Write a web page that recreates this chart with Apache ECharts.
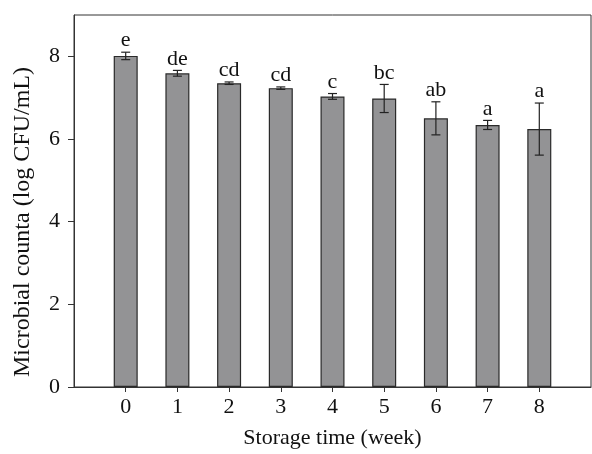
<!DOCTYPE html>
<html>
<head>
<meta charset="utf-8">
<script src="https://cdn.jsdelivr.net/npm/echarts@6/dist/echarts.min.js"></script>
<style>
  html, body { margin: 0; padding: 0; background: #fff; }
  #chart { width: 592px; height: 454px; }
</style>
</head>
<body>
<div id="chart"></div>
<script>
// storage week, mean count, error (half length), significance letters
var weeks = [0, 1, 2, 3, 4, 5, 6, 7, 8];
var means = [8.01, 7.59, 7.35, 7.23, 7.03, 6.98, 6.50, 6.34, 6.24];
var errs = [0.09, 0.07, 0.03, 0.03, 0.07, 0.34, 0.40, 0.11, 0.63];
var letters = ['e', 'de', 'cd', 'cd', 'c', 'bc', 'ab', 'a', 'a'];
var yTicks = [0, 2, 4, 6, 8];

var fontFamily = 'Liberation Serif';
var ink = '#333';

var barData = [];
var errData = [];
for (var i = 0; i < weeks.length; ++i) {
	barData.push([weeks[i], means[i]]);
	errData.push([weeks[i], means[i] - errs[i], means[i] + errs[i]]);
}

function renderErr(params, api) {
	var x = api.value(0);
	var lo = api.coord([x, api.value(1)]);
	var hi = api.coord([x, api.value(2)]);
	var cap = 4.5;
	var lineStyle = { stroke: '#222', lineWidth: 1.2 };
	return {
		type: 'group',
		children: [
			{ type: 'line', shape: { x1: lo[0], y1: lo[1], x2: hi[0], y2: hi[1] }, style: lineStyle },
			{ type: 'line', shape: { x1: lo[0] - cap, y1: lo[1], x2: lo[0] + cap, y2: lo[1] }, style: lineStyle },
			{ type: 'line', shape: { x1: hi[0] - cap, y1: hi[1], x2: hi[0] + cap, y2: hi[1] }, style: lineStyle },
			{ type: 'text', x: hi[0], y: hi[1] - 0.5, style: {
				text: letters[params.dataIndex], fill: '#111', font: '22px "' + fontFamily + '"',
				align: 'center', verticalAlign: 'bottom'
			} }
		]
	};
}

var option = {
	animation: false,
	textStyle: { fontFamily: fontFamily },
	grid: { left: 74, right: 1, top: 15, bottom: 63, show: true, borderColor: ink, borderWidth: 1 },
	// y title placed by hand, it sits a bit below the axis middle in the original
	graphic: [{
		type: 'text',
		x: 23,
		y: 222,
		rotation: Math.PI / 2,
		style: {
			text: 'Microbial counta (log CFU/mL)',
			font: '24px "' + fontFamily + '"',
			fill: '#111',
			align: 'center',
			verticalAlign: 'middle'
		}
	}],
	xAxis: {
		type: 'value',
		min: -1,
		max: 9,
		name: 'Storage time (week)',
		nameLocation: 'middle',
		nameGap: 40,
		nameTextStyle: { fontSize: 22, color: '#111', fontFamily: fontFamily },
		axisLine: { onZero: false, lineStyle: { color: ink, width: 1 } },
		axisTick: { customValues: weeks, length: 5, lineStyle: { color: ink } },
		axisLabel: { customValues: weeks, fontSize: 22, color: '#111', margin: 9, fontFamily: fontFamily },
		splitLine: { show: false }
	},
	yAxis: {
		type: 'value',
		min: 0,
		max: 9,
		interval: 2,
		axisLine: { show: true, onZero: false, lineStyle: { color: ink, width: 1 } },
		axisTick: { show: true, customValues: yTicks, length: 6, lineStyle: { color: ink } },
		axisLabel: { customValues: yTicks, fontSize: 22, color: '#111', margin: 14, fontFamily: fontFamily },
		splitLine: { show: false }
	},
	series: [
		{
			type: 'bar',
			data: barData,
			barWidth: 24,
			itemStyle: { color: '#939395', borderColor: '#2a2a2a', borderWidth: 1.2 }
		},
		{
			type: 'custom',
			data: errData,
			renderItem: renderErr,
			encode: { x: 0, y: [1, 2] },
			z: 5
		}
	]
};

var myChart = echarts.init(document.getElementById('chart'));
myChart.setOption(option);
</script>
</body>
</html>
